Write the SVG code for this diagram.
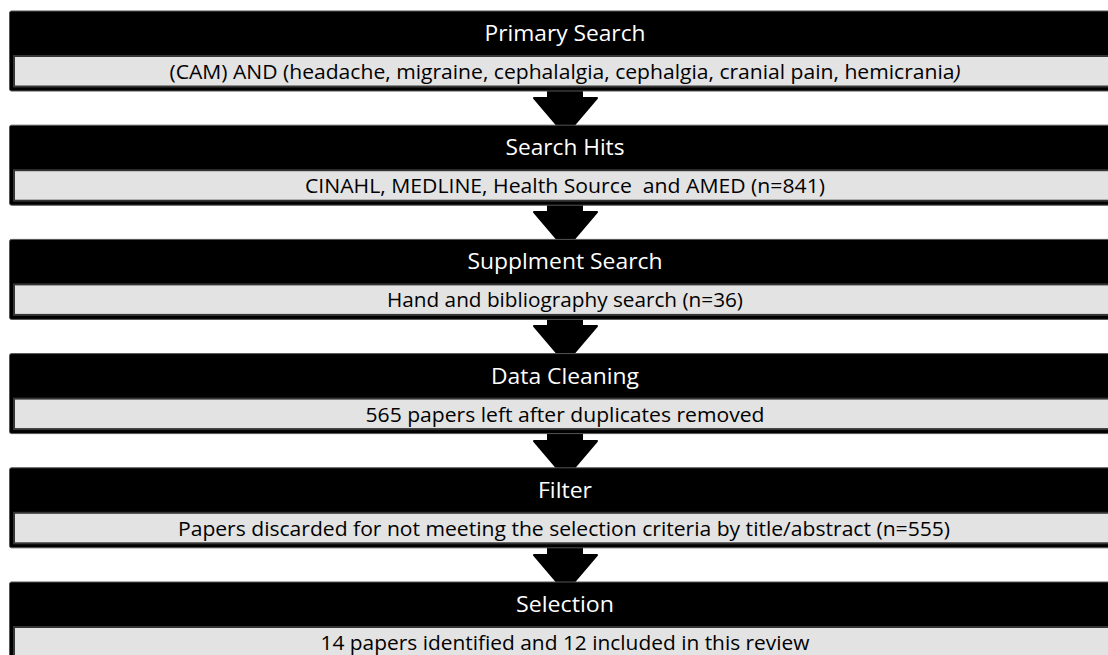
<svg xmlns="http://www.w3.org/2000/svg" width="1108" height="655" viewBox="0 0 1108 655">
<style>
.outer{fill:#000;stroke:#555;stroke-width:1}
.bar{fill:#e3e3e3;stroke:#353535;stroke-width:2}
.hd{font-family:"Open Sans","Liberation Sans",sans-serif;font-size:22px;fill:#fff;text-anchor:middle}
.tx{font-family:"Open Sans","Liberation Sans",sans-serif;font-size:19.5px;fill:#000;text-anchor:middle}
.arr{fill:#000;stroke:#000;stroke-width:2;stroke-linejoin:round}
</style>
<rect width="1108" height="655" fill="#fff"/>
<g id="connectors">
<polygon class="arr" points="548,85 582,85 582,98 597,98 565.5,135 534,98 548,98"/>
<polygon class="arr" points="548,199 582,199 582,212 597,212 565.5,249 534,212 548,212"/>
<polygon class="arr" points="548,313 582,313 582,326 597,326 565.5,363 534,326 548,326"/>
<polygon class="arr" points="548,428 582,428 582,441 597,441 565.5,478 534,441 548,441"/>
<polygon class="arr" points="548,542 582,542 582,555 597,555 565.5,592 534,555 548,555"/>
</g>
<g id="n1">
<rect class="outer" x="9.5" y="11" width="1120" height="80" rx="2"/>
<rect class="bar" x="14" y="56" width="1112" height="30.5"/>
<text class="hd" x="565" y="41" textLength="161" lengthAdjust="spacingAndGlyphs">Primary Search</text>
<text class="tx" x="565" y="79" textLength="791" lengthAdjust="spacingAndGlyphs">(CAM) AND (headache, migraine, cephalalgia, cephalgia, cranial pain, hemicrania<tspan font-style="italic">)</tspan></text>
</g>
<g id="n2">
<rect class="outer" x="9.5" y="125.2" width="1120" height="80" rx="2"/>
<rect class="bar" x="14" y="170.2" width="1112" height="30.5"/>
<text class="hd" x="565" y="155.2" textLength="119" lengthAdjust="spacingAndGlyphs">Search Hits</text>
<text class="tx" x="565" y="193.2" textLength="520" lengthAdjust="spacingAndGlyphs" xml:space="preserve">CINAHL, MEDLINE, Health Source  and AMED (n=841)</text>
</g>
<g id="n3">
<rect class="outer" x="9.5" y="239.4" width="1120" height="80" rx="2"/>
<rect class="bar" x="14" y="284.4" width="1112" height="30.5"/>
<text class="hd" x="565" y="269.4" textLength="195" lengthAdjust="spacingAndGlyphs">Supplment Search</text>
<text class="tx" x="565" y="307.4" textLength="356" lengthAdjust="spacingAndGlyphs">Hand and bibliography search (n=36)</text>
</g>
<g id="n4">
<rect class="outer" x="9.5" y="353.6" width="1120" height="80" rx="2"/>
<rect class="bar" x="14" y="398.6" width="1112" height="30.5"/>
<text class="hd" x="565" y="383.6" textLength="148" lengthAdjust="spacingAndGlyphs">Data Cleaning</text>
<text class="tx" x="565" y="421.6" textLength="399" lengthAdjust="spacingAndGlyphs">565 papers left after duplicates removed</text>
</g>
<g id="n5">
<rect class="outer" x="9.5" y="467.8" width="1120" height="80" rx="2"/>
<rect class="bar" x="14" y="512.8" width="1112" height="30.5"/>
<text class="hd" x="565" y="497.8" textLength="54" lengthAdjust="spacingAndGlyphs">Filter</text>
<text class="tx" x="564" y="535.8" textLength="772" lengthAdjust="spacingAndGlyphs">Papers discarded for not meeting the selection criteria by title/abstract (n=555)</text>
</g>
<g id="n6">
<rect class="outer" x="9.5" y="582" width="1120" height="80" rx="2"/>
<rect class="bar" x="14" y="627" width="1112" height="30.5"/>
<text class="hd" x="565" y="612" textLength="98" lengthAdjust="spacingAndGlyphs">Selection</text>
<text class="tx" x="565" y="650" textLength="489" lengthAdjust="spacingAndGlyphs">14 papers identified and 12 included in this review</text>
</g>
</svg>
